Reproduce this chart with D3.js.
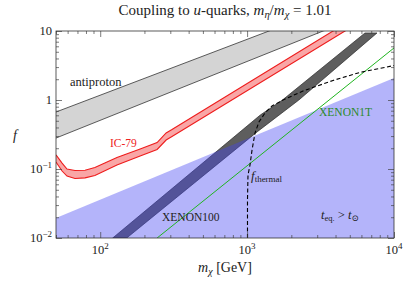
<!DOCTYPE html>
<html>
<head>
<meta charset="utf-8">
<script src="https://d3js.org/d3.v7.min.js"></script>
<style>
  body { margin: 0; background: #fff; }
  text { font-family: "Liberation Serif", "DejaVu Serif", serif; }
</style>
</head>
<body>
<svg id="chart" width="407" height="281"></svg>
<script>
  // data: [mass in GeV, f]
  antiprotonUpper = [[50, 0.67], [1409, 10], [10000, 40]];
  antiprotonLower = [[50, 0.281], [3290, 10], [10000, 20]];

  ic79Upper = [[50, 0.160], [55, 0.122], [59.4, 0.100], [67.3, 0.095], [78.8, 0.096], [92, 0.105],
    [130, 0.147], [187, 0.195], [244, 0.242], [281, 0.333], [308, 0.373], [3844, 10], [10000, 33]];
  ic79Lower = [[50, 0.126], [55, 0.0935], [59.4, 0.079], [67.3, 0.0727], [78.8, 0.0743], [92, 0.0805],
    [130, 0.114], [187, 0.154], [244, 0.192], [281, 0.263], [308, 0.296], [4637, 10], [10000, 26]];

  relicUpper = [[121.6, 0.01], [1230, 0.606], [1740, 1.0], [6345, 9.36]];
  relicLower = [[151.5, 0.01], [1180, 0.35], [2250, 1.0], [7660, 9.36]];

  xenon100Edge = [[50, 0.0195], [10000, 2.08]];
  xenon1T = [[244, 0.01], [10000, 5.68]];

  fThermal = [[1006, 0.01], [1006, 0.0356], [1014, 0.0818], [1046, 0.114], [1080, 0.188], [1132, 0.333],
    [1204, 0.480], [1324, 0.649], [1477, 0.819], [1755, 1.0], [2402, 1.35], [3844, 1.92], [5866, 2.51], [10000, 3.16]];

  xMajor = [100, 1000, 10000];
  xMajorExp = ['2', '3', '4'];
  yMajor = [0.01, 0.1, 1, 10];

  var svg = d3.select('#chart');
  var pLeft = 56, pRight = 394, pTop = 31, pBottom = 238;

  x = d3.scaleLog().domain([50, 10000]).range([pLeft, pRight]);
  y = d3.scaleLog().domain([0.01, 10]).range([pBottom, pTop]);

  svg.append('clipPath').attr('id', 'clip')
    .append('rect')
    .attr('x', pLeft).attr('y', pTop)
    .attr('width', pRight - pLeft).attr('height', pBottom - pTop);

  var plot = svg.append('g').attr('clip-path', 'url(#clip)');

  line = d3.line().x(function(d) { return x(d[0]); }).y(function(d) { return y(d[1]); });

  function band(up, low) {
    return line(up.concat(low.slice().reverse())) + 'Z';
  }

  // antiproton band
  plot.append('path').attr('d', band(antiprotonUpper, antiprotonLower))
    .attr('fill', '#d4d4d4');
  plot.append('path').attr('d', line(antiprotonUpper))
    .attr('fill', 'none').attr('stroke', '#333').attr('stroke-width', 0.8);
  plot.append('path').attr('d', line(antiprotonLower))
    .attr('fill', 'none').attr('stroke', '#333').attr('stroke-width', 0.8);

  // IC-79 band
  plot.append('path').attr('d', band(ic79Upper, ic79Lower))
    .attr('fill', '#f9a6a6');
  plot.append('path').attr('d', line(ic79Upper))
    .attr('fill', 'none').attr('stroke', '#ee1c1c').attr('stroke-width', 1.1);
  plot.append('path').attr('d', line(ic79Lower))
    .attr('fill', 'none').attr('stroke', '#ee1c1c').attr('stroke-width', 1.1);

  // relic band
  plot.append('path').attr('d', band(relicUpper, relicLower))
    .attr('fill', '#5e5e5e').attr('stroke', '#2a2a2a').attr('stroke-width', 0.7);

  // excluded region (XENON100), drawn see-through on top
  var blue = xenon100Edge.concat([[10000, 0.001], [50, 0.001]]);
  plot.append('path').attr('d', line(blue) + 'Z')
    .attr('fill', 'rgb(68,68,242)').attr('fill-opacity', 0.4);

  // XENON1T
  plot.append('path').attr('d', line(xenon1T))
    .attr('fill', 'none').attr('stroke', '#1fb51f').attr('stroke-width', 1);

  // f_thermal
  plot.append('path').attr('d', line(fThermal))
    .attr('fill', 'none').attr('stroke', '#000').attr('stroke-width', 1.1)
    .attr('stroke-dasharray', '4,2.5');

  // ticks on all four sides, pointing in
  var minorX = x.ticks().filter(function(d) { return xMajor.indexOf(d) < 0; });
  var minorY = y.ticks().filter(function(d) { return yMajor.indexOf(d) < 0; });

  function tickAxis(axis, vals, len, tx) {
    var g = svg.append('g').attr('transform', tx)
      .call(axis.tickValues(vals).tickSize(-len).tickFormat(''));
    g.select('.domain').remove();
    g.selectAll('line').attr('stroke', '#444').attr('stroke-width', 0.7);
  }
  tickAxis(d3.axisBottom(x), xMajor, 6, 'translate(0,' + pBottom + ')');
  tickAxis(d3.axisBottom(x), minorX, 3, 'translate(0,' + pBottom + ')');
  tickAxis(d3.axisTop(x), xMajor, 6, 'translate(0,' + pTop + ')');
  tickAxis(d3.axisTop(x), minorX, 3, 'translate(0,' + pTop + ')');
  tickAxis(d3.axisLeft(y), yMajor, 6, 'translate(' + pLeft + ',0)');
  tickAxis(d3.axisLeft(y), minorY, 3, 'translate(' + pLeft + ',0)');
  tickAxis(d3.axisRight(y), yMajor, 6, 'translate(' + pRight + ',0)');
  tickAxis(d3.axisRight(y), minorY, 3, 'translate(' + pRight + ',0)');

  svg.append('rect')
    .attr('x', pLeft).attr('y', pTop)
    .attr('width', pRight - pLeft).attr('height', pBottom - pTop)
    .attr('fill', 'none').attr('stroke', '#333').attr('stroke-width', 0.8);

  // tick labels
  xMajor.forEach(function(v, i) {
    var t = svg.append('text').attr('x', x(v)).attr('y', 254)
      .attr('text-anchor', 'middle').attr('font-size', 12.5).attr('fill', '#222');
    t.append('tspan').text('10');
    t.append('tspan').attr('dy', -5).attr('font-size', 9).text(xMajorExp[i]);
  });
  var yLab = [['10', null], ['1', null], ['10', '\u22121'], ['10', '\u22122']];
  [10, 1, 0.1, 0.01].forEach(function(v, i) {
    var t = svg.append('text').attr('x', 52).attr('y', y(v) + 4)
      .attr('text-anchor', 'end').attr('font-size', 12.5).attr('fill', '#222');
    t.append('tspan').text(yLab[i][0]);
    if (yLab[i][1]) t.append('tspan').attr('dy', -5).attr('font-size', 9).text(yLab[i][1]);
  });

  // title
  var title = svg.append('text').attr('x', 225).attr('y', 15)
    .attr('text-anchor', 'middle').attr('font-size', 15).attr('fill', '#222');
  title.append('tspan').text('Coupling to ');
  title.append('tspan').attr('font-style', 'italic').text('u');
  title.append('tspan').text('-quarks, ');
  title.append('tspan').attr('font-style', 'italic').text('m');
  title.append('tspan').attr('dy', 3).attr('font-size', 10.5).attr('font-style', 'italic').text('\u03b7');
  title.append('tspan').attr('dy', -3).text('/');
  title.append('tspan').attr('font-style', 'italic').text('m');
  title.append('tspan').attr('dy', 3).attr('font-size', 10.5).attr('font-style', 'italic').text('\u03c7');
  title.append('tspan').attr('dy', -3).text(' = 1.01');

  // axis labels
  var xl = svg.append('text').attr('x', 225).attr('y', 272)
    .attr('text-anchor', 'middle').attr('font-size', 14).attr('fill', '#222');
  xl.append('tspan').attr('font-style', 'italic').text('m');
  xl.append('tspan').attr('dy', 3).attr('font-size', 10).attr('font-style', 'italic').text('\u03c7');
  xl.append('tspan').attr('dy', -3).text(' [GeV]');

  svg.append('text').attr('x', 15).attr('y', 140)
    .attr('text-anchor', 'middle').attr('font-size', 14).attr('font-style', 'italic')
    .attr('fill', '#222').text('f');

  // curve labels
  svg.append('text').attr('x', 70).attr('y', 86).attr('font-size', 12.5).attr('fill', '#222').text('antiproton');
  svg.append('text').attr('x', 110).attr('y', 147).attr('font-size', 11.5).attr('fill', '#ee2222').text('IC-79');
  svg.append('text').attr('x', 319).attr('y', 116).attr('font-size', 11.5).attr('fill', '#2a8a2a').text('XENON1T');
  svg.append('text').attr('x', 162).attr('y', 221).attr('font-size', 11.5).attr('fill', '#222').text('XENON100');

  var ft = svg.append('text').attr('x', 251).attr('y', 180).attr('font-size', 13).attr('fill', '#222');
  ft.append('tspan').attr('font-style', 'italic').text('f');
  ft.append('tspan').attr('dy', 2).attr('font-size', 9).text('thermal');

  var te = svg.append('text').attr('x', 321).attr('y', 219).attr('font-size', 12.5).attr('fill', '#222');
  te.append('tspan').attr('font-style', 'italic').text('t');
  te.append('tspan').attr('dy', 2).attr('font-size', 8.5).text('eq.');
  te.append('tspan').attr('dy', -2).text(' > ');
  te.append('tspan').attr('font-style', 'italic').text('t');
  te.append('tspan').attr('dy', 2).attr('font-size', 8.5).text('\u2299');
</script>
</body>
</html>
